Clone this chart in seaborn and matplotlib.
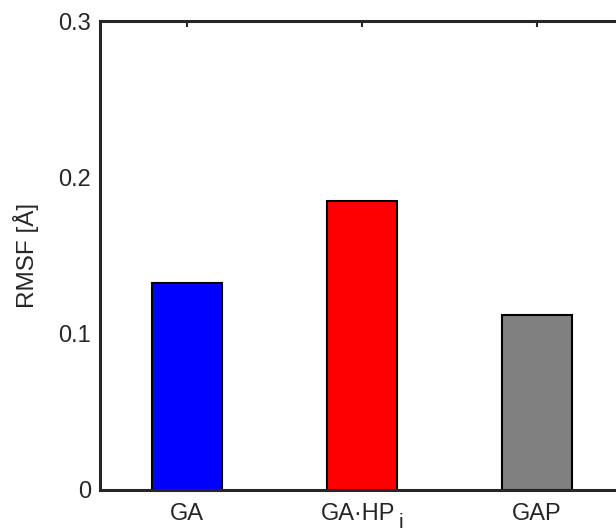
import matplotlib
matplotlib.use("Agg")
import matplotlib.pyplot as plt
import matplotlib.transforms as mtransforms
import seaborn as sns
import pandas as pd

categories = ["GA", "GA·HP", "GAP"]
subscripts = ["", "i", ""]
rmsf = [0.132, 0.185, 0.112]
colors = ["#0000FF", "#FF0000", "#808080"]
yticks = [0, 0.1, 0.2, 0.3]
ytick_labels = ["0", "0.1", "0.2", "0.3"]

sns.set_theme(style="white")
plt.rcParams["font.family"] = ["Liberation Sans", "DejaVu Sans"]

df = pd.DataFrame({"cat": categories, "rmsf": rmsf})

fig = plt.figure(figsize=(6.16, 5.31), dpi=100)
ax = fig.add_axes([99.5 / 616, 1 - 489.5 / 531, 525 / 616, (489.5 - 21) / 531])

sns.barplot(data=df, x="cat", y="rmsf", hue="cat", palette=colors,
            width=0.4, edgecolor="black", linewidth=1.5, legend=False,
            saturation=1, ax=ax)

ax.set_xlim(-0.5, 2.5)
ax.set_ylim(0, 0.3)
ax.set_yticks(yticks)
ax.set_yticklabels(ytick_labels)
ax.set_xlabel("")
ax.set_ylabel("RMSF [Å]", fontsize=17.5, labelpad=14, color="#262626")

for s in ax.spines.values():
    s.set_visible(True)
    s.set_linewidth(2.2)
    s.set_color("#262626")

ax.tick_params(axis="both", direction="in", length=4, width=1.5, color="#262626",
               labelsize=17, labelcolor="#262626", top=True, right=True)
ax.tick_params(axis="x", pad=10)
ax.tick_params(axis="y", pad=6)
ax.grid(False)

# shift labels with subscripts left so label+subscript is centred, then add subscript
fig.canvas.draw()
renderer = fig.canvas.get_renderer()
for lbl, sub in zip(ax.get_xticklabels(), subscripts):
    if not sub:
        continue
    shift = -4 / 100 * 72  # points
    lbl.set_transform(lbl.get_transform() + mtransforms.ScaledTranslation(shift / 72, 0, fig.dpi_scale_trans))
    fig.canvas.draw()
    bb = lbl.get_window_extent(renderer)
    fig.text((bb.x1 + 3) / fig.bbox.width, (bb.y0 - 7) / fig.bbox.height, sub,
             fontsize=15, color="#262626", ha="left", va="bottom")

fig.savefig("out.png", dpi=100)
